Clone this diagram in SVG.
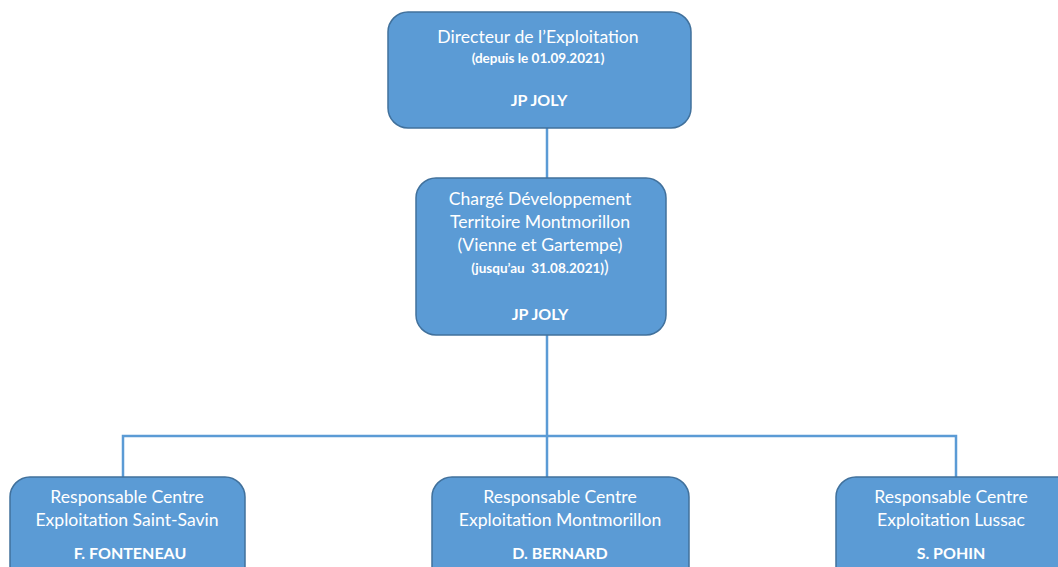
<svg xmlns="http://www.w3.org/2000/svg" width="1058" height="567" viewBox="0 0 1058 567">
<style>
.box{fill:#5B9BD5;stroke:#41719C;stroke-width:1.5}
.t{fill:#FFFFFF;font-family:Lato,"Open Sans","Liberation Sans",sans-serif;text-anchor:middle;font-size:17.6px;white-space:pre}
.s{font-size:13.5px;font-weight:bold}
.b{font-weight:bold;font-size:16px}
.c{fill:none;stroke:#5B9BD5;stroke-width:2.5}
</style>
<rect width="1058" height="567" fill="#FFFFFF"/>
<g id="connectors">
<line class="c" x1="547" y1="128" x2="547" y2="178"/>
<line class="c" x1="547" y1="335" x2="547" y2="477"/>
<polyline class="c" points="123,477 123,436 956,436 956,477"/>
</g>
<g id="directeur">
<rect class="box" x="388" y="12" width="303" height="116" rx="20"/>
<text class="t" x="538" y="43">Directeur de l’Exploitation</text>
<text class="t s" x="538" y="63">(depuis le 01.09.2021)</text>
<text class="t b" x="539" y="106">JP JOLY</text>
</g>
<g id="charge">
<rect class="box" x="416" y="178" width="250" height="157" rx="20"/>
<text class="t" x="540" y="205">Chargé Développement</text>
<text class="t" x="540" y="228">Territoire Montmorillon</text>
<text class="t" x="540" y="251">(Vienne et Gartempe)</text>
<text class="t" x="540" y="273"><tspan class="s">(jusqu’au  31.08.2021)</tspan>)</text>
<text class="t b" x="540" y="320">JP JOLY</text>
</g>
<g id="saintsavin">
<rect class="box" x="10" y="477" width="235" height="110" rx="20"/>
<text class="t" x="127" y="503">Responsable Centre</text>
<text class="t" x="127" y="526">Exploitation Saint-Savin</text>
<text class="t b" x="130" y="559">F. FONTENEAU</text>
</g>
<g id="montmorillon">
<rect class="box" x="432" y="477" width="257" height="110" rx="20"/>
<text class="t" x="560" y="503">Responsable Centre</text>
<text class="t" x="560" y="526">Exploitation Montmorillon</text>
<text class="t b" x="560" y="559">D. BERNARD</text>
</g>
<g id="lussac">
<rect class="box" x="836" y="477" width="240" height="110" rx="20"/>
<text class="t" x="951" y="503">Responsable Centre</text>
<text class="t" x="951" y="526">Exploitation Lussac</text>
<text class="t b" x="951" y="559">S. POHIN</text>
</g>
</svg>
